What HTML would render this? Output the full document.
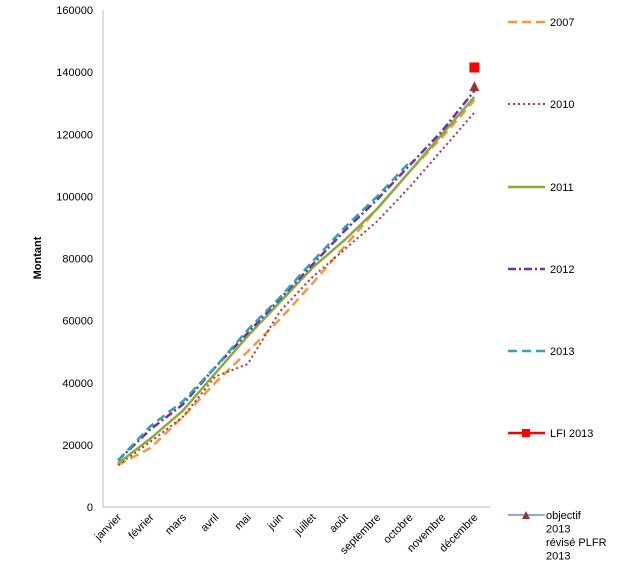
<!DOCTYPE html>
<html><head><meta charset="utf-8"><style>
body{margin:0;background:#fff;font-family:"Liberation Sans",sans-serif}
</style></head><body>
<svg id="chart" width="627" height="583" font-family="Liberation Sans, sans-serif">
<g id="axes"></g><g id="series"></g><g id="legend"></g>
</svg>
<script>
const months=["janvier","février","mars","avril","mai","juin","juillet","août","septembre","octobre","novembre","décembre"];
const yTicks=[0,20000,40000,60000,80000,100000,120000,140000,160000];
const s2007=[13500,19000,29000,40000,50000,60500,72000,84000,96000,108000,119000,131000];
const s2010=[13500,21000,29000,42000,46000,63000,74000,83000,92000,103000,115000,127000];
const s2011=[14000,22000,31000,43000,55000,66000,77000,86000,96000,108000,120000,132000];
const s2012=[15000,25000,33000,45000,56000,67000,78000,89000,99000,110000,121000,134000];
const s2013=[15000,26000,34000,45000,57000,67500,79000,90000,100000,111000];
const lfi2013=[141500];
const objectif2013=[135500];
const NS="http://www.w3.org/2000/svg";
const x=i=>118+i*32.4;
const y=v=>507-v*497/160000;
function mk(tag,at,parent){const e=document.createElementNS(NS,tag);for(const k in at)e.setAttribute(k,at[k]);parent.appendChild(e);return e;}
const axes=document.getElementById('axes'),ser=document.getElementById('series'),leg=document.getElementById('legend');
let ax=mk('line',{x1:103,y1:10,x2:103,y2:507,stroke:'#bbb','stroke-width':1},axes);

let bx=mk('line',{x1:103,y1:507,x2:490,y2:507,stroke:'#bbb','stroke-width':1},axes);

yTicks.forEach(v=>{const t=mk('text',{x:93,y:y(v)+4,'text-anchor':'end','font-size':11},axes);t.textContent=v;
});
months.forEach((m,i)=>{const t=mk('text',{x:x(i)+4,y:518,'text-anchor':'end','font-size':11,transform:`rotate(-45 ${x(i)+4} 518)`},axes);t.textContent=m;
});
const yt=mk('text',{x:41,y:258,'text-anchor':'middle','font-size':11,'font-weight':'bold',transform:'rotate(-90 41 258)'},axes);yt.textContent='Montant';

const defs=[
{d:s2007,c:'#f79646',da:'9,5',w:2.5,n:'2007',ly:22},
{d:s2010,c:'#a33b3b',da:'2,3',w:2,n:'2010',ly:104},
{d:s2011,c:'#8aaa3c',da:'',w:2.5,n:'2011',ly:187},
{d:s2012,c:'#7030a0',da:'8,3,2,3',w:2.5,n:'2012',ly:269},
{d:s2013,c:'#31a0b8',da:'9,5',w:2.5,n:'2013',ly:351}];
defs.forEach(s=>{
 const p=mk('polyline',{points:s.d.map((v,i)=>x(i)+','+y(v)).join(' '),fill:'none',stroke:s.c,'stroke-width':s.w,'stroke-dasharray':s.da},ser);
 
 const l=mk('line',{x1:508,y1:s.ly,x2:545,y2:s.ly,stroke:s.c,'stroke-width':s.w,'stroke-dasharray':s.da},leg);
 
 const t=mk('text',{x:550,y:s.ly+4,'font-size':11},leg);t.textContent=s.n;
 
});
lfi2013.forEach(v=>{const r=mk('rect',{x:x(11)-5,y:y(v)-5,width:10,height:10,fill:'#ff0000'},ser);
});
objectif2013.forEach(v=>{const px=x(11),py=y(v);const tr=mk('polygon',{points:`${px-5},${py+5} ${px+5},${py+5} ${px},${py-5}`,fill:'#943634'},ser);
});
// legend LFI
let l1=mk('line',{x1:508,y1:433,x2:545,y2:433,stroke:'#ff0000','stroke-width':2.5},leg);

let r1=mk('rect',{x:522,y:429,width:8,height:8,fill:'#ff0000'},leg);

let t1=mk('text',{x:550,y:437,'font-size':11},leg);t1.textContent='LFI  2013';

let l2=mk('line',{x1:508,y1:515,x2:545,y2:515,stroke:'#8ea9db','stroke-width':2},leg);

let p2=mk('polygon',{points:'522,519 530,519 526,511',fill:'#943634'},leg);

['objectif','2013','révisé PLFR','2013'].forEach((s,i)=>{const t=mk('text',{x:546,y:519+i*13.5,'font-size':11},leg);t.textContent=s;
});
</script>
</body></html>
